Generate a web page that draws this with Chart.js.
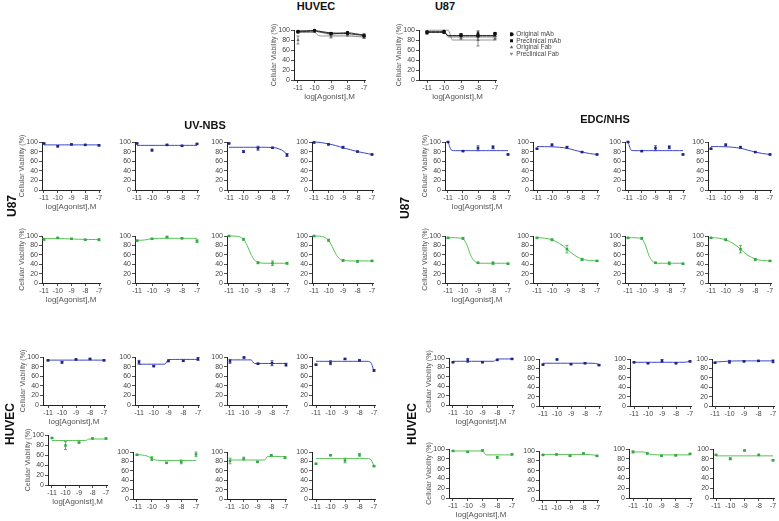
<!DOCTYPE html>
<html><head><meta charset="utf-8">
<script src="https://cdn.jsdelivr.net/npm/chart.js@4.4.1/dist/chart.umd.min.js"></script>
<style>
html,body{margin:0;padding:0;background:#fff;}
#root{position:relative;width:779px;height:521px;overflow:hidden;font-family:'Liberation Sans',Arial,sans-serif;}
#root canvas{position:absolute;}
.lbl{position:absolute;font-weight:bold;color:#111;white-space:nowrap;transform:translate(-50%,-50%);line-height:1;}
.rot{transform:translate(-50%,-50%) rotate(-90deg);}
</style></head><body><div id="root"></div>
<script>
// ---------------- DATA ----------------
const DOSE = [-11, -10, -9, -8, -7];
const FIT_X = [-11,-10.75,-10.5,-10.25,-10,-9.75,-9.5,-9.25,-9,-8.75,-8.5,-8.25,-8,-7.75,-7.5,-7.25,-7];
const X_TICKS = [-11, -10, -9, -8, -7];
const Y_TICKS = [0, 20, 40, 60, 80, 100];
const LEGEND = ['Original mAb', 'Preclinical mAb', 'Original Fab', 'Preclinical Fab'];

// top panels (order = LEGEND)
const huvecTopMean = [[97,99,93,93,88],[96,98,92,95,90],[80,97,87,91,85],[95,98,90,90,86]];
const huvecTopSD   = [[2,1,2,2,2],[1,1,2,2,2],[8,2,3,2,2],[2,1,2,3,2]];
const huvecTopFit  = [
  [98,98.3,98.5,98.8,99,97.8,96.5,95.2,94,93.8,93.5,93.2,93,92,91,90,89],
  [96.5,96.8,97,97.5,98,96.5,95,93.5,92,92.7,93.5,94.2,95,93.8,92.5,91.3,90],
  [95,95,95,95,95,89,88,88,88,88,88,88,88,87.5,87,86.5,86],
  [96,96.5,97,97.5,98,96,94,92,90,90,90,90,90,89,88,87,86]];
const u87TopMean = [[96,97,90,88,93],[94,95,88,93,90],[97,98,84,80,82],[95,96,86,84,85]];
const u87TopSD   = [[2,2,3,3,2],[2,2,3,5,3],[1,1,3,12,2],[1,1,2,4,2]];
const u87TopFit  = [
  [96.5,96.5,96.5,96.5,96.5,88,88,88,88,88,88,88,88,88,88,88,88],
  [95,95,95,95,95,89,89,89,89,89,89,89,89,89,89,89,89],
  [99.5,99.5,99.5,99.5,99.5,99.5,80,80,80,80,80,80,80,80,80,80,80],
  [97,97,97,97,97,85,85,85,85,85,85,85,85,85,85,85,85]];

// UV-NBS, U87
const uvU87BlueMean = [[97,91,95,94,93],[97,83,94,92,96],[97,80,87,88,73],[99,95,89,80,74]];
const uvU87BlueSD   = [[1,1,1,1,1],[1,2,1,1,1],[1,2,4,1,3],[1,1,2,1,1]];
const uvU87BlueFit  = [
  [94,94,94,94,94,94,94,94,94,94,94,94,94,94,94,94,94],
  [93,93,93,93,93,93,93,93,93,93,93,93,93,93,93,93,93],
  [89,89,89,89,89,89,89,89,89,89,89,88.8,88.5,87.5,85,81,74],
  [100,99.5,98.7,97.5,96,94.5,92.5,90.3,88,86,84,82,80,78.5,77,75.5,74]];
const uvU87GreenMean = [[93,96,94,92,92],[90,94,98,95,89],[100,93,43,42,42],[100,91,48,46,47]];
const uvU87GreenSD   = [[2,1,1,1,2],[1,1,1,1,3],[1,2,2,5,2],[1,2,2,2,1]];
const uvU87GreenFit  = [
  [94.5,94.5,94.5,94.5,94.5,94.4,94.2,94,93.7,93.4,93.1,92.9,92.7,92.6,92.5,92.5,92.5],
  [91,91,91.5,93,94.5,95,95,95,95,95,95,95,95,95,95,95,95],
  [100,100,99.5,98,93,80,62,49,44,42.5,42,42,42,42,42,42,42],
  [100,99.8,99.3,97,91,78,62,52,48.5,47.5,47,47,47,47,47,47,47]];

// EDC/NHS, U87
const edcU87BlueMean = [[100,81,87,89,74],[86,94,89,79,74],[100,81,87,89,74],[86,94,89,79,74]];
const edcU87BlueSD   = [[1,1,5,3,1],[1,2,2,1,1],[1,1,5,3,1],[1,2,2,1,1]];
const edcU87BlueFit  = [
  [100,82.5,82,82,82,82,82,82,82,82,82,82,82,82,82,82,82],
  [90.5,90.5,90.4,90.2,90,89.6,89,88.2,87,85.2,83,81,79,77.5,76,75,74],
  [100,82.5,82,82,82,82,82,82,82,82,82,82,82,82,82,82,82],
  [90.5,90.5,90.4,90.2,90,89.6,89,88.2,87,85.2,83,81,79,77.5,76,75,74]];
const edcU87GreenMean = [[96,95,43,42,41],[96,92,72,50,47],[96,95,43,42,41],[96,92,72,50,47]];
const edcU87GreenSD   = [[1,2,1,3,1],[1,2,8,2,1],[1,2,1,3,1],[1,2,8,2,1]];
const edcU87GreenFit  = [
  [96.5,96.5,96.3,95.8,94,82,60,47,43,42,42,42,42,42,42,42,42],
  [96.5,96.2,95.5,94,92,88.5,84,78.5,72,65,59,54.5,51,49,48,47.5,47],
  [96.5,96.5,96.3,95.8,94,82,60,47,43,42,42,42,42,42,42,42,42],
  [96.5,96.2,95.5,94,92,88.5,84,78.5,72,65,59,54.5,51,49,48,47.5,47]];

// UV-NBS, HUVEC
const uvHuvecBlueMean = [[93,89,95,96,93],[89,81,92,92,96],[91,99,86,87,84],[84,88,96,93,72]];
const uvHuvecBlueSD   = [[1,2,1,1,1],[4,1,2,1,3],[4,1,1,5,3],[1,4,1,1,2]];
const uvHuvecBlueFit  = [
  [93.5,93.5,93.5,93.5,93.5,93.5,93.5,93.5,93.5,93.5,93.5,93.5,93.5,93.5,93.5,93.5,93.5],
  [85,85,85,85,85,85,85,85,94.5,94.8,95,95,95,95,95,95,95],
  [94,94,94,94,94,94,94,86.5,86.5,86.5,86.5,86.5,86.5,86.5,86.5,86.5,86.5],
  [91,91,91,91,91,91,91,91,91,91,91,91,91,91,91,89.5,71]];
const uvHuvecGreenMean = [[94,79,85,93,93],[94,86,77,79,95],[81,86,79,93,88],[75,93,82,94,70]];
const uvHuvecGreenSD   = [[1,8,1,1,1],[1,4,1,4,5],[6,3,1,1,2],[1,1,5,3,1]];
const uvHuvecGreenFit  = [
  [89,89,89,89,89,89,89,89,89,89,89,92,92,92,92,92,92],
  [94,93.8,93,90.5,86,83,82.2,82,82,82,82,82,82,82,82,82,82],
  [83,83,83,83,83,83,83,83,83,83,83,90.5,90.5,90.5,90.5,90.5,90.5],
  [86,86,86,86,86,86,86,86,86,86,86,86,86,86,86,85,70]];

// EDC/NHS, HUVEC
const edcHuvecBlueMean = [[91,95,91,96,98],[88,99,89,91,87],[93,91,96,91,95],[92,94,95,96,95]];
const edcHuvecBlueSD   = [[1,4,1,1,1],[1,1,1,1,1],[1,1,3,1,1],[1,3,1,1,3]];
const edcHuvecBlueFit  = [
  [93,93,93,93,93,93,93,93,93,93,93,93,97.5,98,98,98,98],
  [91,91,91,91,91,91,91,91,91,91,91,91,91,91,91,90.5,88.5],
  [93,93,93,93,93,93,93,93,93,93,93,93,93,93,93,93.5,95],
  [93.5,94,94.5,95,95.5,95.7,95.9,96,96,96,96,96,96,96,96,96,96]];
const edcHuvecGreenMean = [[96,94,97,83,89],[92,93,90,95,90],[94,91,86,87,90],[88,80,97,88,77]];
const edcHuvecGreenSD   = [[1,1,1,2,1],[1,1,1,1,1],[2,1,1,1,1],[1,2,1,1,1]];
const edcHuvecGreenFit  = [
  [96,96,96,96,96,96,96,96,96,88,88,88,88,88,88,88,88],
  [93,93,93,93,93,93,93,93,93,93,93,93,93,93,92.5,92,90.5],
  [94,94,94,94,91.5,89,88.5,88,88,88,88,88,88,88,88,88,88],
  [86,86,86,86,86,86,86,86,86,86,86,86,86,86,86,86,86]];

// ---------------- STYLE / LAYOUT ----------------
const FAMILY = "'Liberation Sans', Arial, sans-serif";
const TICK_FONT = {family: FAMILY, size: 7};
const YTITLE_FONT = {family: FAMILY, size: 7};
const XTITLE_FONT = {family: FAMILY, size: 8};
const BLUE = {pt: '#1f2487', line: '#3b47c9'};
const GREEN = {pt: '#34a844', line: '#55c255'};
const TOP_STYLES = [
  {pt: '#111', line: '#111', style: 'circle', rot: 0},
  {pt: '#111', line: '#333', style: 'rect', rot: 0},
  {pt: '#666', line: '#888', style: 'triangle', rot: 0},
  {pt: '#888', line: '#bbb', style: 'triangle', rot: 180}];
const YW = 24, XH = 22, PT = 18, PR = 6;
const root = document.getElementById('root');

const errorBars = {
  id: 'errorBars',
  beforeDatasetsDraw(chart) {
    const ctx = chart.ctx, xs = chart.scales.x, ys = chart.scales.y;
    chart.data.datasets.forEach(ds => {
      if (!ds.err) return;
      ctx.save();
      ctx.strokeStyle = ds.borderColor;
      ctx.lineWidth = 0.8;
      ds.data.forEach((p, i) => {
        const e = ds.err[i];
        if (!e) return;
        const px = xs.getPixelForValue(p.x);
        const y1 = ys.getPixelForValue(p.y + e), y2 = ys.getPixelForValue(p.y - e);
        ctx.beginPath();
        ctx.moveTo(px, y1); ctx.lineTo(px, y2);
        ctx.moveTo(px - 1.5, y1); ctx.lineTo(px + 1.5, y1);
        ctx.moveTo(px - 1.5, y2); ctx.lineTo(px + 1.5, y2);
        ctx.stroke();
      });
      ctx.restore();
    });
  }
};

function addLabel(text, x, y, size, rotate) {
  const d = document.createElement('div');
  d.className = 'lbl' + (rotate ? ' rot' : '');
  d.textContent = text;
  d.style.left = x + 'px';
  d.style.top = y + 'px';
  d.style.fontSize = size + 'px';
  root.appendChild(d);
}

function scaleOpts(xmin, xmax, titles) {
  const grid = {display: true, drawOnChartArea: false, drawTicks: true, tickLength: 3, color: '#222', lineWidth: 0.8};
  const border = {display: true, color: '#222', width: 1};
  return {
    x: {
      type: 'linear', min: xmin, max: xmax,
      afterBuildTicks: s => { s.ticks = X_TICKS.map(v => ({value: v})); },
      afterFit: s => { s.height = XH; },
      ticks: {font: TICK_FONT, color: '#444', padding: 1, maxRotation: 0, autoSkip: false},
      grid, border,
      title: {display: titles, text: 'log[Agonist],M', font: XTITLE_FONT, color: '#555', padding: 0}
    },
    y: {
      type: 'linear', min: 0, max: 100,
      afterBuildTicks: s => { s.ticks = Y_TICKS.map(v => ({value: v})); },
      afterFit: s => { s.width = YW; },
      ticks: {font: TICK_FONT, color: '#444', padding: 1, autoSkip: false},
      grid, border,
      title: {display: titles, text: 'Cellular Viability (%)', font: YTITLE_FONT, color: '#555', padding: 0}
    }
  };
}

function makeCanvas(left, top, w, h) {
  const c = document.createElement('canvas');
  c.width = w; c.height = h;
  c.style.left = left + 'px'; c.style.top = top + 'px';
  c.style.width = w + 'px'; c.style.height = h + 'px';
  root.appendChild(c);
  return c;
}

function geometry(pos) {
  const [axisX, x11, x7, y100, y0] = pos;
  const ppu = (x7 - x11) / 4;
  return {
    xmin: -11 - (x11 - axisX) / ppu,
    xmax: -7 + 1 / ppu,
    left: axisX - YW,
    top: y100 - PT,
    w: YW + (x7 + 1 - axisX) + PR,
    h: PT + (y0 - y100) + XH
  };
}

function fitDataset(fit, color, width) {
  return {data: FIT_X.map((x, i) => ({x, y: fit[i]})), showLine: true, pointRadius: 0,
    borderColor: color, borderWidth: width || 1, cubicInterpolationMode: 'monotone', clip: false, order: 2};
}
function pointDataset(mean, sd, color, style, rot, label) {
  return {label, data: DOSE.map((x, i) => ({x, y: mean[i]})), showLine: false,
    pointStyle: style, rotation: rot, pointRadius: 1.8, backgroundColor: color, borderColor: color,
    borderWidth: 0, err: sd, clip: false, order: 1};
}

function buildChart(pos, datasets, titles) {
  const g = geometry(pos);
  const c = makeCanvas(g.left, g.top, g.w, g.h);
  return new Chart(c, {
    type: 'scatter',
    data: {datasets},
    options: {
      responsive: false, animation: false, events: [],
      layout: {padding: {left: 0, right: PR, top: PT, bottom: 0}},
      plugins: {legend: {display: false}, tooltip: {enabled: false}},
      scales: scaleOpts(g.xmin, g.xmax, titles)
    },
    plugins: [errorBars]
  });
}

function panelRow(positions, means, sds, fits, color) {
  positions.forEach((pos, k) => {
    buildChart(pos, [fitDataset(fits[k], color.line), pointDataset(means[k], sds[k], color.pt, 'rect', 0)], k === 0);
  });
}

function topPanel(pos, means, sds, fits) {
  const ds = [];
  for (let s = 0; s < 4; s++) {
    const st = TOP_STYLES[s];
    ds.push(fitDataset(fits[s], st.line, 0.9));
    ds.push(pointDataset(means[s], sds[s], st.pt, st.style, st.rot, LEGEND[s]));
  }
  buildChart(pos, ds, true);
}

// ---------------- LAYOUT (pixel geometry: axisX, x@-11, x@-7, y@100, y@0) ----------------
topPanel([294, 298, 364, 30, 80], huvecTopMean, huvecTopSD, huvecTopFit);
topPanel([419, 427, 495, 30, 80], u87TopMean, u87TopSD, u87TopFit);

// legend (Chart.js legend of the four top series)
(function () {
  const c = makeCanvas(510, 31, 64, 60);
  new Chart(c, {
    type: 'scatter',
    data: {datasets: LEGEND.map((l, s) => ({label: l, data: [], pointStyle: TOP_STYLES[s].style,
      rotation: TOP_STYLES[s].rot, backgroundColor: TOP_STYLES[s].pt, borderColor: TOP_STYLES[s].pt, borderWidth: 0}))},
    options: {
      responsive: false, animation: false, events: [],
      layout: {padding: 0},
      scales: {x: {display: false}, y: {display: false}},
      plugins: {tooltip: {enabled: false}, legend: {display: true, position: 'top', align: 'start',
        labels: {usePointStyle: true, boxWidth: 3, boxHeight: 3, padding: 0, color: '#444',
          font: {family: FAMILY, size: 6.5}}}}
    }
  });
})();

const COLS_UV_U87 = [[42, 44, 99], [135, 137, 197], [227, 229, 287], [312, 314, 372]];
const COLS_EDC_U87 = [[445, 448, 508], [533, 537, 597], [625, 628, 683], [708, 711, 770]];
panelRow(COLS_UV_U87.map(c => c.concat([142, 190])), uvU87BlueMean, uvU87BlueSD, uvU87BlueFit, BLUE);
panelRow(COLS_UV_U87.map(c => c.concat([236, 283])), uvU87GreenMean, uvU87GreenSD, uvU87GreenFit, GREEN);
panelRow(COLS_EDC_U87.map(c => c.concat([142, 190])), edcU87BlueMean, edcU87BlueSD, edcU87BlueFit, BLUE);
panelRow(COLS_EDC_U87.map(c => c.concat([236, 283])), edcU87GreenMean, edcU87GreenSD, edcU87GreenFit, GREEN);

panelRow([[43, 48, 104, 357, 405], [135, 139, 198, 357, 405], [227, 230, 286, 357, 405], [312, 316, 374, 357, 405]],
  uvHuvecBlueMean, uvHuvecBlueSD, uvHuvecBlueFit, BLUE);
panelRow([[48, 52, 106, 435, 485], [133, 137, 196, 452, 499], [227, 230, 285, 452, 499], [312, 316, 374, 452, 499]],
  uvHuvecGreenMean, uvHuvecGreenSD, uvHuvecGreenFit, GREEN);
panelRow([[449, 453, 512, 358, 405], [539, 543, 599, 359, 406], [630, 634, 690, 359, 406], [712, 715, 773, 359, 406]],
  edcHuvecBlueMean, edcHuvecBlueSD, edcHuvecBlueFit, BLUE);
panelRow([[449, 453, 512, 449, 498], [539, 543, 597, 451, 500], [629, 633, 690, 449, 498], [713, 716, 773, 449, 498]],
  edcHuvecGreenMean, edcHuvecGreenSD, edcHuvecGreenFit, GREEN);

// ---------------- TITLES ----------------
addLabel('HUVEC', 316, 6, 11, false);
addLabel('U87', 445, 6, 11, false);
addLabel('UV-NBS', 205, 125, 11, false);
addLabel('EDC/NHS', 605, 119, 11, false);
addLabel('U87', 12, 206, 12, true);
addLabel('HUVEC', 10, 424, 12, true);
addLabel('U87', 405, 208, 12, true);
addLabel('HUVEC', 412, 424, 12, true);
</script>
</body></html>
